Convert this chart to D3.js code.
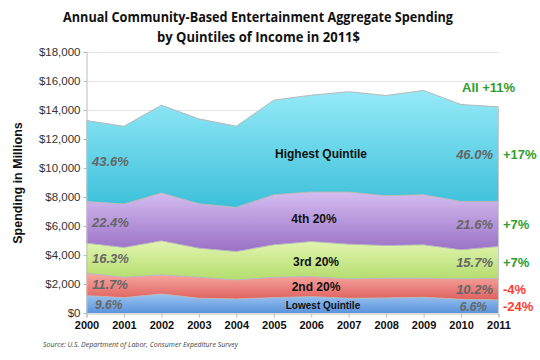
<!DOCTYPE html>
<html><head><meta charset="utf-8">
<script src="https://cdn.jsdelivr.net/npm/d3@7"></script>
<style>body{margin:0;background:#fff}svg{display:block}</style>
</head><body><svg id="c" width="540" height="360"></svg>
<script>
const years = [2000,2001,2002,2003,2004,2005,2006,2007,2008,2009,2010,2011];
const lowest  = [1198,1060,1313,1014,968,1060,1129,1014,1037,1083,945,899];
const second  = [1544,1406,1314,1452,1313,1406,1383,1336,1360,1314,1405,1498];
const third   = [2075,2051,2350,2005,1959,2235,2419,2397,2258,2304,2005,2189];
const fourth  = [2880,2996,3297,3065,3042,3457,3412,3596,3434,3457,3342,3111];
const highest = [5576,5367,6059,5854,5598,6522,6682,6917,6911,7192,6683,6523];
const seriesNames = ["Lowest Quintile","2nd 20%","3rd 20%","4th 20%","Highest Quintile"];
const yTicks = [0,2000,4000,6000,8000,10000,12000,14000,16000,18000];
const startShares = ["9.6%","11.7%","16.3%","22.4%","43.6%"];
const endShares = ["6.6%","10.2%","15.7%","21.6%","46.0%"];
const growth = ["-24%","-4%","+7%","+7%","+17%"];
const totalGrowth = "All +11%";

const svg = d3.select("#c");
const x = d3.scaleLinear().domain([2000,2011]).range([86.5,498.5]);
const y = d3.scaleLinear().domain([0,18000]).range([313,52]);

const table = years.map((yr,i)=>({year:yr, s0:lowest[i], s1:second[i], s2:third[i], s3:fourth[i], s4:highest[i]}));
const keys = ["s0","s1","s2","s3","s4"];
const stack = d3.stack().keys(keys)(table);

const grads = [["#9cc6f2","#5b93dc"],["#f7aaa4","#e0605e"],["#e2f5b0","#b4dc6e"],["#d4bdf0","#9a70c6"],["#96eaf8","#3cc0da"]];
const defs = svg.append("defs");
grads.forEach((g,i)=>{
  const lg = defs.append("linearGradient").attr("id","g"+i).attr("x1",0).attr("y1",0).attr("x2",0).attr("y2",1);
  lg.append("stop").attr("offset","0%").attr("stop-color",g[0]);
  lg.append("stop").attr("offset","100%").attr("stop-color",g[1]);
});

// gridlines
svg.append("g").selectAll("line").data(yTicks.slice(1)).join("line")
  .attr("x1",86).attr("x2",499).attr("y1",d=>Math.round(y(d))+0.5).attr("y2",d=>Math.round(y(d))+0.5)
  .attr("stroke","#e4e4e4").attr("stroke-width",1);

const area = d3.area().x(d=>x(d.data.year)).y0(d=>y(d[0])).y1(d=>y(d[1]));
svg.append("g").selectAll("path").data(stack).join("path")
  .attr("d",area).attr("fill",(d,i)=>`url(#g${i})`);
const line = d3.line().x(d=>x(d.data.year)).y(d=>y(d[1]));
svg.append("g").selectAll("path").data(stack).join("path")
  .attr("d",line).attr("fill","none").attr("stroke","#b8b8b8").attr("stroke-width",1);
// right edge
svg.append("line").attr("x1",498.5).attr("x2",498.5).attr("y1",y(d3.sum(keys,k=>table[11][k]))).attr("y2",313).attr("stroke","#c8c8c8");

// y axis
const ya = svg.append("g").attr("transform","translate(86.5,0)")
  .call(d3.axisLeft(y).tickValues(yTicks).tickSize(3).tickFormat(d=>"$"+d3.format(",")(d)));
ya.select(".domain").attr("stroke","#bbb");
ya.selectAll(".tick line").attr("stroke","#bbb");
ya.selectAll("text").attr("font-family","Liberation Sans, Arial, sans-serif").attr("font-size",11.5).attr("fill","#333").attr("x",-6);
// x axis
const xa = svg.append("g").attr("transform","translate(0,313.5)")
  .call(d3.axisBottom(x).tickValues(years).tickSize(4).tickFormat(d3.format("d")));
xa.select(".domain").attr("stroke","#bbb");
xa.selectAll(".tick line").attr("stroke","#bbb");
xa.selectAll("text").attr("font-family","Liberation Sans, Arial, sans-serif").attr("font-size",11).attr("font-weight","bold").attr("fill","#111").attr("y",8);

// titles
const tf = "Open Sans, sans-serif";
svg.append("text").attr("x",258).attr("y",22).attr("text-anchor","middle").attr("font-family",tf).attr("font-weight","bold").attr("font-size",13.5).attr("fill","#111")
  .attr("textLength",390).attr("lengthAdjust","spacingAndGlyphs").text("Annual Community-Based Entertainment Aggregate Spending");
svg.append("text").attr("x",258.5).attr("y",42).attr("text-anchor","middle").attr("font-family",tf).attr("font-weight","bold").attr("font-size",13.5).attr("fill","#111")
  .attr("textLength",203).attr("lengthAdjust","spacingAndGlyphs").text("by Quintiles of Income in 2011$");
svg.append("text").attr("transform","translate(22,183) rotate(-90)").attr("text-anchor","middle").attr("font-family","Liberation Sans, Arial, sans-serif").attr("font-weight","bold").attr("font-size",12.5).attr("fill","#111").text("Spending in Millions");
svg.append("text").attr("x",43).attr("y",347).attr("font-family",tf).attr("font-style","italic").attr("font-size",7).attr("fill","#444").text("Source: U.S. Department of Labor, Consumer Expediture Survey");

// share labels
const mid = (s,i)=> (y(s[i][0])+y(s[i][1]))/2;
const lf = "Liberation Sans, Arial, sans-serif";
svg.append("g").selectAll("text").data(stack).join("text")
  .attr("x",(d,i)=> i===0?95:92).attr("y",(d,i)=>mid(d,0)+5).attr("font-family",lf).attr("font-style","italic").attr("font-weight","bold")
  .attr("font-size",(d,i)=>i===0?12:13).attr("fill","#666").text((d,i)=>startShares[i]);
svg.append("g").selectAll("text").data(stack).join("text")
  .attr("x",(d,i)=> i===0?487:493).attr("y",(d,i)=>mid(d,11)+5).attr("text-anchor","end").attr("font-family",lf).attr("font-style","italic").attr("font-weight","bold")
  .attr("font-size",(d,i)=>i===0?12:13).attr("fill","#666").text((d,i)=>endShares[i]);
// growth labels
svg.append("g").selectAll("text").data(stack).join("text")
  .attr("x",503).attr("y",(d,i)=>mid(d,11)+5).attr("font-family",lf).attr("font-weight","bold")
  .attr("font-size",13).attr("fill",(d,i)=>growth[i][0]==="-"?"#ff3b2f":"#2e9e2e").text((d,i)=>growth[i]);
svg.append("text").attr("x",462).attr("y",92).attr("font-family",lf).attr("font-weight","bold").attr("font-size",13).attr("fill","#2e9e2e").text(totalGrowth);
// series names
const nameY = [305,286.7,261.7,219.3,154];
const nameX = [323,316,316,314,321];
svg.append("g").selectAll("text").data(seriesNames).join("text")
  .attr("x",(d,i)=>nameX[i]).attr("y",(d,i)=>nameY[i]+4).attr("text-anchor","middle").attr("font-family",lf).attr("font-weight","bold")
  .attr("font-size",(d,i)=>i===0?10:12).attr("fill","#111").text(d=>d);
</script></body></html>
